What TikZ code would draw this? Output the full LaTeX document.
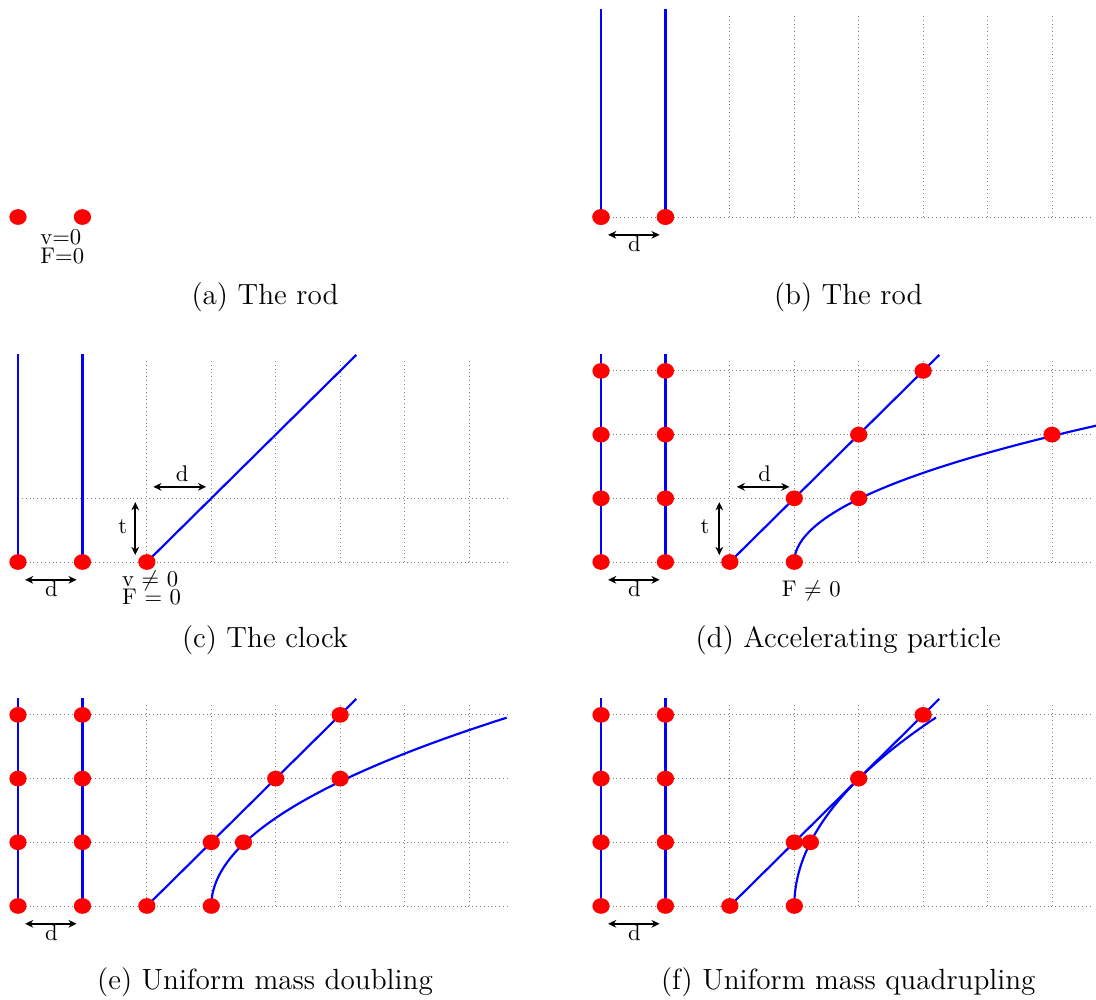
\documentclass[tikz,border=0pt]{standalone}
\usetikzlibrary{shapes.geometric,arrows.meta}
\begin{document}
\begin{tikzpicture}[x=1cm,y=0.98867cm,
  pdot/.style={ellipse, fill=red, draw=none, inner sep=0pt, minimum width=0.268cm, minimum height=0.244cm},
  wl/.style={blue, line width=0.95pt},
  gridl/.style={gray, line width=0.4pt, dash pattern=on 0.4pt off 1.3pt},
  dimarr/.style={{Stealth[length=3.6pt,width=3.4pt]}-{Stealth[length=3.6pt,width=3.4pt]}, line width=0.8pt, black},
  lab/.style={inner sep=0pt, anchor=base, font=\fontsize{10}{12}\selectfont},
  labw/.style={inner sep=0pt, anchor=base west, font=\fontsize{10}{12}\selectfont},
  captext/.style={inner sep=0pt, anchor=base, font=\fontsize{12.9}{15}\selectfont}]
\useasboundingbox (-0.2794,-1.4757) rectangle (16.732,14.223);

% ---------- (a) ----------
\begin{scope}[shift={(0,10.816)}]
  \node[pdot] (a0) at (0,0) {};
  \node[pdot] (a1) at (1,0) {};
  \node[labw] (av) at (0.341,-0.43) {v=0};
  \node[labw] (aF) at (0.341,-0.725) {F=0};
\end{scope}
\node[captext] (capa) at (3.834,9.45) {(a) The rod};

% ---------- (b) ----------
\begin{scope}[shift={(9.049,10.816)}]
  \foreach \i in {2,...,7} \draw[gridl] (\i,0) -- (\i,3.2);
  \draw[gridl] (0,0) -- (7.64,0);
  \coordinate (bt0) at (0,3.27);
  \coordinate (bt1) at (1,3.27);
  \node[pdot] (b0) at (0,0) {};
  \node[pdot] (b1) at (1,0) {};
  \draw[wl] (b0.center) -- (bt0);
  \draw[wl] (b1.center) -- (bt1);
  \node[pdot] at (b0) {};
  \node[pdot] at (b1) {};
  \coordinate (bdl) at (0.11,-0.28);
  \coordinate (bdr) at (0.91,-0.28);
  \draw[dimarr] (bdl) -- (bdr);
  \node[lab] (bd) at (0.52,-0.545) {d};
\end{scope}
\node[captext] (capb) at (12.887,9.45) {(b) The rod};

% ---------- (c) ----------
\begin{scope}[shift={(0,5.4)}]
  \foreach \i in {2,...,7} \draw[gridl] (\i,0) -- (\i,3.2);
  \foreach \j in {0,1} \draw[gridl] (0,\j) -- (7.64,\j);
  \coordinate (ct0) at (0,3.27);
  \coordinate (ct1) at (1,3.27);
  \coordinate (ctd) at (5.25,3.25);
  \draw[wl] (0,0) -- (ct0);
  \draw[wl] (1,0) -- (ct1);
  \draw[wl] (2,0) -- (ctd);
  \node[pdot] (c0) at (0,0) {};
  \node[pdot] (c1) at (1,0) {};
  \node[pdot] (c2) at (2,0) {};
  \coordinate (cdl) at (0.11,-0.28);
  \coordinate (cdr) at (0.91,-0.28);
  \draw[dimarr] (cdl) -- (cdr);
  \node[lab] (cd) at (0.52,-0.545) {d};
  \coordinate (cul) at (2.10,1.18);
  \coordinate (cur) at (2.92,1.18);
  \draw[dimarr] (cul) -- (cur);
  \node[lab] (cud) at (2.55,1.26) {d};
  \coordinate (ctt) at (1.82,0.94);
  \coordinate (ctb) at (1.82,0.11);
  \draw[dimarr] (ctt) -- (ctb);
  \node[lab] (ctl) at (1.625,0.44) {t};
  \node[labw] (cv) at (1.61,-0.38) {v $\neq$ 0};
  \node[labw] (cF) at (1.61,-0.67) {F = 0};
\end{scope}
\node[captext] (capc) at (3.834,4.05) {(c) The clock};

% ---------- (d) ----------
\begin{scope}[shift={(9.049,5.4)}]
  \foreach \i in {2,...,7} \draw[gridl] (\i,0) -- (\i,3.2);
  \foreach \j in {0,...,3} \draw[gridl] (0,\j) -- (7.64,\j);
  \coordinate (dt0) at (0,3.27);
  \coordinate (dt1) at (1,3.27);
  \coordinate (dtd) at (5.25,3.25);
  \draw[wl] (0,0) -- (dt0);
  \draw[wl] (1,0) -- (dt1);
  \draw[wl] (2,0) -- (dtd);
  \draw[wl] plot[domain=0:2.14, samples=60, smooth, variable=\t] ({3+1.0226*\t*\t},\t);
  \foreach \k in {0,...,3} {
    \node[pdot] (dl\k) at (0,\k) {};
    \node[pdot] (dr\k) at (1,\k) {};
  }
  \node[pdot] (dp0) at (2,0) {};
  \node[pdot] (dp1) at (3,1) {};
  \node[pdot] (dp2) at (4,2) {};
  \node[pdot] (dp3) at (5,3) {};
  \node[pdot] (dq0) at (3,0) {};
  \node[pdot] (dq1) at (4,1) {};
  \node[pdot] (dq2) at (7,2) {};
  \coordinate (ddl) at (0.11,-0.28);
  \coordinate (ddr) at (0.91,-0.28);
  \draw[dimarr] (ddl) -- (ddr);
  \node[lab] (dd) at (0.52,-0.545) {d};
  \coordinate (dul) at (2.106,1.18);
  \coordinate (dur) at (2.925,1.18);
  \draw[dimarr] (dul) -- (dur);
  \node[lab] (dud) at (2.54,1.26) {d};
  \coordinate (dtt) at (1.836,0.94);
  \coordinate (dtb) at (1.836,0.11);
  \draw[dimarr] (dtt) -- (dtb);
  \node[lab] (dtl) at (1.616,0.44) {t};
  \node[labw] (dF) at (2.80,-0.545) {F $\neq$ 0};
\end{scope}
\node[captext] (capd) at (12.887,4.05) {(d) Accelerating particle};

% ---------- (e) ----------
\begin{scope}[shift={(0,0)}]
  \foreach \i in {2,...,7} \draw[gridl] (\i,0) -- (\i,3.2);
  \foreach \j in {0,...,3} \draw[gridl] (0,\j) -- (7.64,\j);
  \coordinate (et0) at (0,3.27);
  \coordinate (et1) at (1,3.27);
  \coordinate (etd) at (5.25,3.25);
  \draw[wl] (0,0) -- (et0);
  \draw[wl] (1,0) -- (et1);
  \draw[wl] (2,0) -- (etd);
  \draw[wl] plot[domain=0:2.956, samples=60, smooth, variable=\t] ({3+0.5247*\t*\t},\t);
  \foreach \k in {0,...,3} {
    \node[pdot] (el\k) at (0,\k) {};
    \node[pdot] (er\k) at (1,\k) {};
  }
  \node[pdot] (ep0) at (2,0) {};
  \node[pdot] (ep1) at (3,1) {};
  \node[pdot] (ep2) at (4,2) {};
  \node[pdot] (ep3) at (5,3) {};
  \node[pdot] (eq0) at (3,0) {};
  \node[pdot] (eq1) at (3.5,1) {};
  \node[pdot] (eq2) at (5,2) {};
  \coordinate (edl) at (0.11,-0.28);
  \coordinate (edr) at (0.91,-0.28);
  \draw[dimarr] (edl) -- (edr);
  \node[lab] (ed) at (0.52,-0.545) {d};
\end{scope}
\node[captext] (cape) at (3.834,-1.319) {(e) Uniform mass doubling};

% ---------- (f) ----------
\begin{scope}[shift={(9.049,0)}]
  \foreach \i in {2,...,7} \draw[gridl] (\i,0) -- (\i,3.2);
  \foreach \j in {0,...,3} \draw[gridl] (0,\j) -- (7.64,\j);
  \coordinate (ft0) at (0,3.27);
  \coordinate (ft1) at (1,3.27);
  \coordinate (ftd) at (5.25,3.25);
  \draw[wl] (0,0) -- (ft0);
  \draw[wl] (1,0) -- (ft1);
  \draw[wl] (2,0) -- (ftd);
  \draw[wl] plot[domain=0:2.96, samples=60, smooth, variable=\t] ({3+0.2511*\t*\t},\t);
  \foreach \k in {0,...,3} {
    \node[pdot] (fl\k) at (0,\k) {};
    \node[pdot] (fr\k) at (1,\k) {};
  }
  \node[pdot] (fp0) at (2,0) {};
  \node[pdot] (fp1) at (3,1) {};
  \node[pdot] (fp2) at (4,2) {};
  \node[pdot] (fp3) at (5,3) {};
  \node[pdot] (fq0) at (3,0) {};
  \node[pdot] (fq1) at (3.25,1) {};
  \coordinate (fdl) at (0.11,-0.28);
  \coordinate (fdr) at (0.91,-0.28);
  \draw[dimarr] (fdl) -- (fdr);
  \node[lab] (fd) at (0.52,-0.545) {d};
\end{scope}
\node[captext] (capf) at (12.887,-1.319) {(f) Uniform mass quadrupling};
\end{tikzpicture}
\end{document}
